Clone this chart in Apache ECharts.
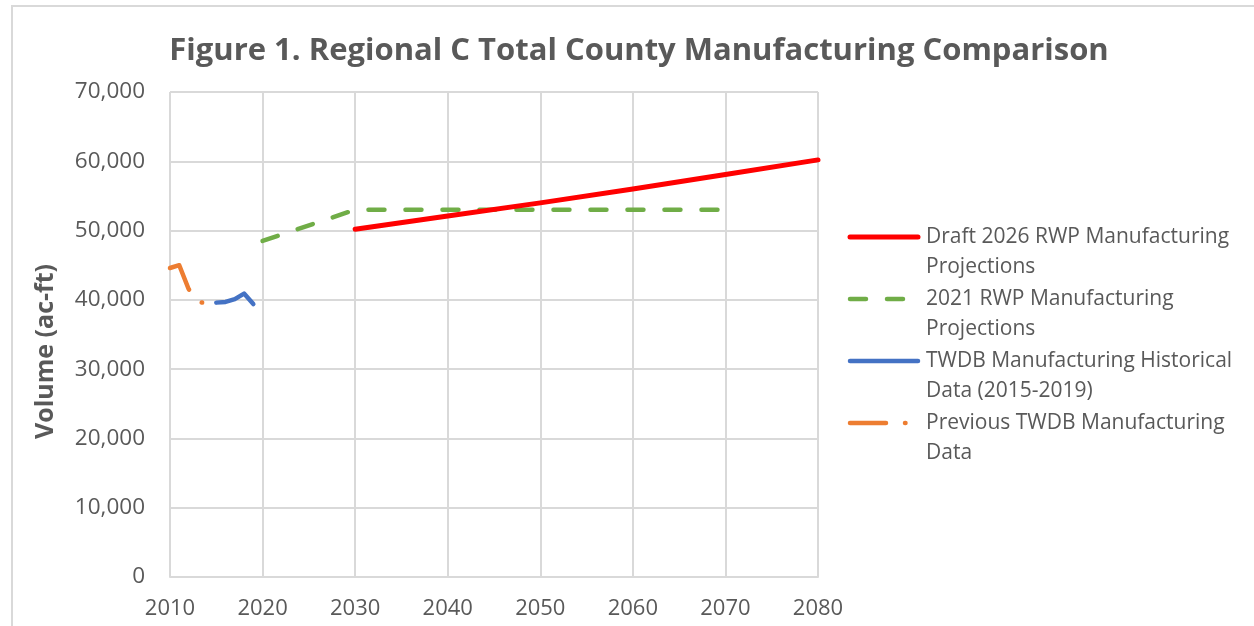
<!DOCTYPE html>
<html>
<head>
<meta charset="utf-8">
<script src="https://cdn.jsdelivr.net/npm/echarts@6/dist/echarts.min.js"></script>
<style>
  html, body { margin: 0; padding: 0; background: #fff; }
  #main { width: 1254px; height: 626px; }
</style>
</head>
<body>
<div id="main"></div>
<script>
// data
const seriesNames = [
  "Draft 2026 RWP Manufacturing\nProjections",
  "2021 RWP Manufacturing\nProjections",
  "TWDB Manufacturing Historical\nData (2015-2019)",
  "Previous TWDB Manufacturing\nData"
];
const draftYears = [2030, 2040, 2050, 2060, 2070, 2080];
const draftValues = [50200, 52100, 54000, 56000, 58100, 60200];
const rwp2021Years = [2020, 2030, 2040, 2050, 2060, 2070];
const rwp2021Values = [48500, 53000, 53000, 53000, 53000, 53000];
const histYears = [2015, 2016, 2017, 2018, 2019];
const histValues = [39600, 39700, 40100, 40900, 39400];
const prevYears = [2010, 2011, 2012, 2013, 2014];
const prevValues = [44600, 45000, 41600, 39700, 39500];
const xTicks = [2010, 2080, 10];
const yTicks = [0, 70000, 10000];

const colors = ["#FF0000", "#70AD47", "#4472C4", "#ED7D31"];
const dashes = ["solid", [16, 21], "solid", [36, 19, 0.5, 19]];
const widths = [5, 4.5, 4.5, 4.5];
const textColor = "#595959";
const font = "'Open Sans', 'Noto Sans', sans-serif";

function pairs(xs, ys) {
  return xs.map((x, i) => [x, ys[i]]);
}

const myChart = echarts.init(document.getElementById("main"));

const seriesData = [
  pairs(draftYears, draftValues),
  pairs(rwp2021Years, rwp2021Values),
  pairs(histYears, histValues),
  pairs(prevYears, prevValues)
];

// hand built legend so the line sample sits on the first text line
const legendGraphics = [];
const legendTop = 237;
const legendStep = 62;
seriesNames.forEach((name, i) => {
  const y = legendTop + i * legendStep;
  legendGraphics.push({
    type: "line",
    shape: { x1: 850, y1: y, x2: 918, y2: y },
    style: {
      stroke: colors[i],
      lineWidth: widths[i],
      lineDash: dashes[i] === "solid" ? null : dashes[i],
      lineCap: "round"
    }
  });
  legendGraphics.push({
    type: "text",
    x: 926,
    y: y - 15,
    style: {
      text: name,
      font: "21px " + font,
      fill: textColor,
      lineHeight: 30,
      textVerticalAlign: "top"
    }
  });
});

const option = {
  animation: false,
  backgroundColor: "#fff",
  title: {
    text: "Figure 1. Regional C Total County Manufacturing Comparison",
    left: 634,
    top: 31,
    textAlign: "center",
    textStyle: {
      fontFamily: font,
      fontSize: 31,
      fontWeight: "bold",
      color: textColor
    }
  },
  grid: { left: 170, right: 436, top: 92, bottom: 49 },
  xAxis: {
    type: "value",
    min: xTicks[0],
    max: xTicks[1],
    interval: xTicks[2],
    axisLine: { show: true, lineStyle: { color: "#D9D9D9", width: 2 } },
    axisTick: { show: false },
    splitLine: { show: true, lineStyle: { color: "#D9D9D9", width: 2 } },
    axisLabel: {
      color: textColor,
      fontFamily: font,
      fontSize: 22,
      margin: 21,
      formatter: (v) => String(v)
    }
  },
  yAxis: {
    type: "value",
    min: yTicks[0],
    max: yTicks[1],
    interval: yTicks[2],
    name: "Volume (ac-ft)",
    nameLocation: "middle",
    nameGap: 112,
    nameTextStyle: {
      color: textColor,
      fontFamily: font,
      fontSize: 25,
      fontWeight: "bold",
      padding: [0, 34, 0, 0]
    },
    axisLine: { show: false },
    axisTick: { show: false },
    splitLine: { show: true, lineStyle: { color: "#D9D9D9", width: 2 } },
    axisLabel: {
      color: textColor,
      fontFamily: font,
      fontSize: 22.5,
      margin: 25,
      formatter: (v) => v.toLocaleString("en-US")
    }
  },
  series: seriesData.map((d, i) => ({
    type: "line",
    name: seriesNames[i],
    data: d,
    showSymbol: false,
    symbol: "none",
    z: 10 - i,
    lineStyle: {
      color: colors[i],
      width: widths[i],
      type: dashes[i],
      cap: "round",
      join: "round"
    }
  })),
  graphic: [
    {
      type: "polyline",
      shape: { points: [[12, 626], [12, 6], [1254, 6]] },
      style: { stroke: "#D9D9D9", lineWidth: 2, fill: null }
    }
  ].concat(legendGraphics)
};

myChart.setOption(option);
</script>
</body>
</html>
